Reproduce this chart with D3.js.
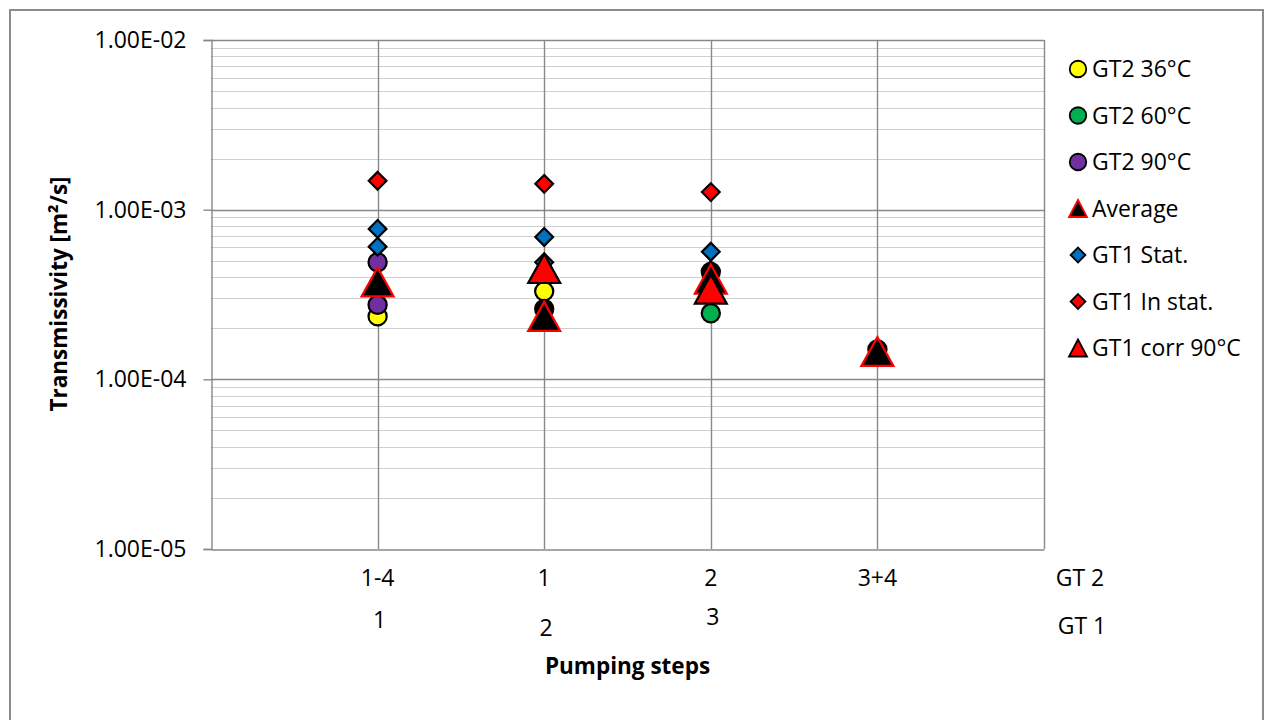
<!DOCTYPE html>
<html><head><meta charset="utf-8">
<script src="https://cdn.jsdelivr.net/npm/d3@7"></script>
<style>body{margin:0;background:#fff;}svg{display:block;font-family:"Open Sans",sans-serif;}</style>
</head><body>
<svg id="chart" width="1265" height="720"></svg>
<script>
// ---- data ----
const yTickValues = [1e-5, 1e-4, 1e-3, 1e-2];
const yTickLabels = ["1.00E-05", "1.00E-04", "1.00E-03", "1.00E-02"];
const gt2Steps = ["1-4", "1", "2", "3+4"];
const gt1Steps = ["1", "2", "3"];
const rowNames = ["GT 2", "GT 1"];

const gt2_36_x = [1, 2];            const gt2_36_y = [2.35e-4, 3.3e-4];
const gt2_60_x = [3];               const gt2_60_y = [2.45e-4];
const gt2_90_x = [1, 1];            const gt2_90_y = [4.9e-4, 2.75e-4];
const gt1Stat_x = [1, 1, 2, 2, 3, 3]; const gt1Stat_y = [7.7e-4, 6.05e-4, 6.9e-4, 4.9e-4, 5.65e-4, 4.4e-4];
const gt1Instat_x = [1, 2, 3];      const gt1Instat_y = [1.48e-3, 1.42e-3, 1.27e-3];
const gt2Avg_x = [2, 3, 4];         const gt2Avg_y = [2.6e-4, 4.3e-4, 1.5e-4];
const average_x = [1, 2, 3, 4];     const average_y = [3.75e-4, 2.35e-4, 3.9e-4, 1.46e-4];
const gt1Corr_x = [2, 3];           const gt1Corr_y = [4.5e-4, 3.4e-4];

const series = [
  {name: "GT2 36°C", shape: "circle", fill: "#ffff00", stroke: "#000", xs: gt2_36_x, ys: gt2_36_y},
  {name: "GT2 60°C", shape: "circle", fill: "#00b050", stroke: "#000", xs: gt2_60_x, ys: gt2_60_y},
  {name: "GT2 90°C", shape: "circle", fill: "#7030a0", stroke: "#000", xs: gt2_90_x, ys: gt2_90_y},
  {name: "GT1 Stat.", shape: "diamond", fill: "#0070c0", stroke: "#000", xs: gt1Stat_x, ys: gt1Stat_y},
  {name: "GT1 In stat.", shape: "diamond", fill: "#ff0000", stroke: "#000", xs: gt1Instat_x, ys: gt1Instat_y},
  {name: "GT2 avg", shape: "circle", fill: "#000000", stroke: "#000", xs: gt2Avg_x, ys: gt2Avg_y},
  {name: "Average", shape: "triangle", fill: "#000000", stroke: "#ff0000", xs: average_x, ys: average_y},
  {name: "GT1 corr 90°C", shape: "triangle", fill: "#ff0000", stroke: "#000", xs: gt1Corr_x, ys: gt1Corr_y}
];
const legendOrder = ["GT2 36°C", "GT2 60°C", "GT2 90°C", "Average", "GT1 Stat.", "GT1 In stat.", "GT1 corr 90°C"];

// ---- layout ----
const svg = d3.select("#chart");
const L = 211, R = 1044, T = 40, B = 549;
const FS = 23;
const x = d3.scaleLinear().domain([0, 5]).range([L, R]);
const y = d3.scaleLog().domain([1e-5, 1e-2]).range([B, T]);

// outer frame
svg.append("rect").attr("x", 10).attr("y", 10).attr("width", 1253).attr("height", 730)
  .attr("fill", "#fff").attr("stroke", "#8c8c8c").attr("stroke-width", 2);

// minor horizontal gridlines
const minor = [];
for (let e = -5; e < -2; e++) for (let m = 2; m <= 9; m++) minor.push(m * Math.pow(10, e));
svg.append("g").selectAll("line").data(minor).join("line")
  .attr("x1", L).attr("x2", R).attr("y1", d => Math.round(y(d)) + 0.5).attr("y2", d => Math.round(y(d)) + 0.5)
  .attr("stroke", "#cfcfcf").attr("stroke-width", 1);
// major horizontal gridlines
svg.append("g").selectAll("line").data(yTickValues.slice(1)).join("line")
  .attr("x1", L).attr("x2", R).attr("y1", d => Math.round(y(d)) + 0.5).attr("y2", d => Math.round(y(d)) + 0.5)
  .attr("stroke", "#888").attr("stroke-width", 1.4);
// vertical gridlines
svg.append("g").selectAll("line").data([1, 2, 3, 4, 5]).join("line")
  .attr("x1", d => Math.round(x(d)) + 0.5).attr("x2", d => Math.round(x(d)) + 0.5).attr("y1", T).attr("y2", B)
  .attr("stroke", "#888").attr("stroke-width", 1.4);

// y axis
const yAxis = d3.axisLeft(y).tickValues(yTickValues).tickFormat((d, i) => yTickLabels[i]).tickSize(8).tickPadding(17);
const gy = svg.append("g").attr("transform", `translate(${L + 0.5},0)`).call(yAxis);
gy.select(".domain").attr("stroke", "#888").attr("stroke-width", 1.4);
gy.selectAll(".tick line").attr("stroke", "#888").attr("stroke-width", 1.4);
gy.selectAll(".tick text").attr("font-size", FS).attr("fill", "#000").attr("font-family", "Open Sans");
// x axis line
const xAxis = d3.axisBottom(x).tickValues([]).tickSize(0);
const gx = svg.append("g").attr("transform", `translate(0,${B + 0.5})`).call(xAxis);
gx.select(".domain").attr("stroke", "#888").attr("stroke-width", 1.4);

// category labels
const lab = svg.append("g").attr("font-size", FS).attr("fill", "#000").attr("text-anchor", "middle");
lab.selectAll("text.r1").data(gt2Steps).join("text").attr("class", "r1")
  .attr("x", (d, i) => x(i + 1)).attr("y", 586).text(d => d);
const r2dy = [0, 8, -3];
lab.selectAll("text.r2").data(gt1Steps).join("text").attr("class", "r2")
  .attr("x", (d, i) => x(i + 1) + 2).attr("y", (d, i) => 628 + r2dy[i]).text(d => d);
lab.append("text").attr("x", 1080).attr("y", 586).text(rowNames[0]);
lab.append("text").attr("x", 1082).attr("y", 634).text(rowNames[1]);

// axis titles
svg.append("text").attr("x", (L + R) / 2).attr("y", 674).attr("text-anchor", "middle")
  .attr("font-size", FS - 0.5).attr("font-weight", "bold").text("Pumping steps");
svg.append("text").attr("transform", "translate(67,294) rotate(-90)").attr("text-anchor", "middle")
  .attr("font-size", FS - 0.5).attr("font-weight", "bold").text("Transmissivity [m²/s]");

// markers
function tri(w, h) { return `M0,${-h / 2}L${w / 2},${h / 2}L${-w / 2},${h / 2}Z`; }
function markerPath(shape, big) {
  if (shape === "circle") return d3.symbol().type(d3.symbolCircle).size(big ? 260 : 215)();
  if (shape === "diamond") return d3.symbol().type(d3.symbolDiamond2).size(big ? 200 : 140)();
  return big ? tri(32, 29) : tri(18, 17);
}
const mk = svg.append("g");
series.forEach(s => {
  const pts = s.xs.map((xv, i) => [xv, s.ys[i]]);
  mk.append("g").selectAll("path").data(pts).join("path")
    .attr("transform", d => `translate(${x(d[0])},${y(d[1])})`)
    .attr("d", markerPath(s.shape, true))
    .attr("fill", s.fill).attr("stroke", s.stroke).attr("stroke-width", 2.2);
});

// legend
const lg = svg.append("g");
legendOrder.forEach((n, i) => {
  const s = series.find(d => d.name === n);
  const cy = 69 + i * 46.5;
  lg.append("path").attr("transform", `translate(1078,${cy})`).attr("d", markerPath(s.shape, false))
    .attr("fill", s.fill).attr("stroke", s.stroke).attr("stroke-width", 1.8);
  lg.append("text").attr("x", 1092).attr("y", cy + 8).attr("font-size", FS).text(n);
});
</script>
</body></html>
